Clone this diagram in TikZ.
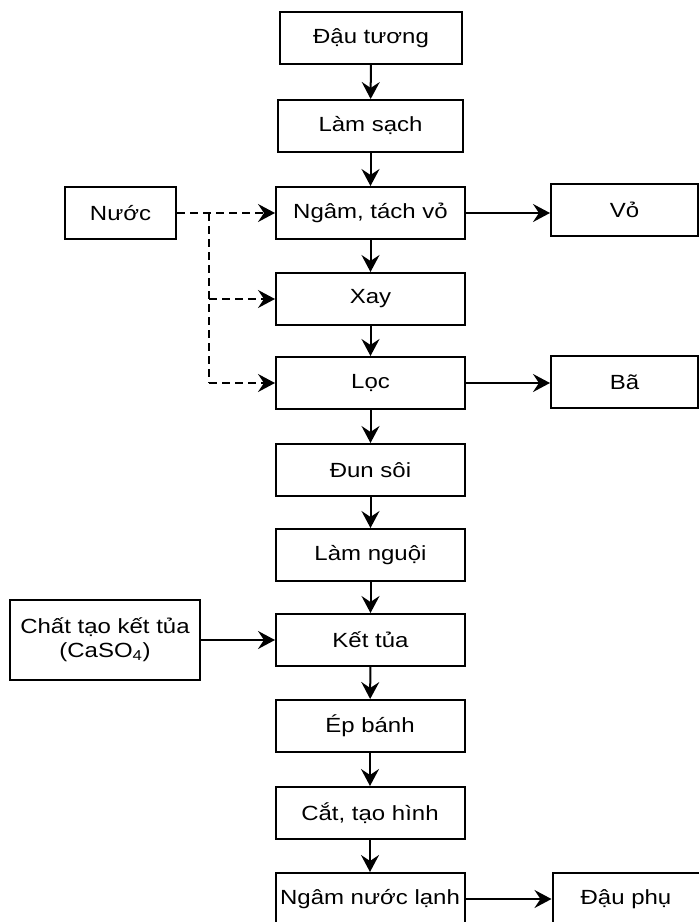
\documentclass[tikz,border=0pt]{standalone}
\usepackage{fontspec}
\setmainfont{Liberation Sans}[FakeStretch=1.17]
\usetikzlibrary{arrows.meta}
\begin{document}
\begin{tikzpicture}[x=1pt,y=-1pt,
  box/.style={draw, line width=2pt, minimum width=189pt, minimum height=52pt, inner sep=0pt, font=\fontsize{20.5}{24}\selectfont},
  sidebox/.style={box, minimum width=147pt},
  tip/.style={-{Stealth[length=17pt,width=18pt,inset=6pt]}},
  flow/.style={line width=2pt, tip},
  dline/.style={line width=1.7pt, dash pattern=on 8pt off 5pt},
  dflow/.style={dline, tip}]
\useasboundingbox (0,0) rectangle (699,922);
\clip (0,0) rectangle (699,922);
\fill[white] (0,0) rectangle (699,922);
% main column
\node[box, minimum width=182pt] (dau)   at (371,38)  {Đậu tương};
\node[box, minimum width=185pt] (sach)  at (370.5,126) {Làm sạch};
\node[box] (ngam)  at (370.5,213) {Ngâm, tách vỏ};
\node[box] (xay)   at (370.5,299) {Xay};
\node[box] (loc)   at (370.5,383) {Lọc};
\node[box] (dun)   at (370.5,470) {Đun sôi};
\node[box] (nguoi) at (370.5,555) {Làm nguội};
\node[box] (ket)   at (370.5,640) {Kết tủa};
\node[box] (ep)    at (370,726) {Ép bánh};
\node[box] (cat)   at (370,813) {Cắt, tạo hình};
\node[box] (lanh)  at (370,899) {Ngâm nước lạnh};
% side boxes
\node[box, minimum width=111pt] (nuoc) at (120.5,213) {Nước};
\node[sidebox] (vo) at (624.5,210) {Vỏ};
\node[sidebox] (ba) at (624.5,382) {Bã};
\node[box, minimum width=190pt, minimum height=80pt, align=center] (chat) at (105,640) {Chất tạo kết tủa\\(CaSO\textsubscript{4})};
\node[sidebox] (phu) at (626,899) {Đậu phụ};
% vertical flow
\draw[flow] (dau) -- (sach);
\draw[flow] (sach) -- (ngam);
\draw[flow] (ngam) -- (xay);
\draw[flow] (xay) -- (loc);
\draw[flow] (loc) -- (dun);
\draw[flow] (dun) -- (nguoi);
\draw[flow] (nguoi) -- (ket);
\draw[flow] (ket) -- (ep);
\draw[flow] (ep) -- (cat);
\draw[flow] (cat) -- (lanh);
% side flows
\draw[flow] (ngam.east) -- (ngam.east -| vo.west);
\draw[flow] (loc.east) -- (loc.east -| ba.west);
\draw[flow] (chat.east) -- (chat.east -| ket.west);
\draw[flow] (lanh.east) -- (lanh.east -| phu.west);
% water dashed
\coordinate (jt) at (209,213);
\coordinate (jb) at (209,383);
\draw[dflow] (nuoc.east) -- (ngam.west);
\draw[dline] (jt) -- (jb);
\draw[dflow] (jb) -- (loc.west);
\draw[dflow] (jt |- xay) -- (xay.west);
\end{tikzpicture}
\end{document}
